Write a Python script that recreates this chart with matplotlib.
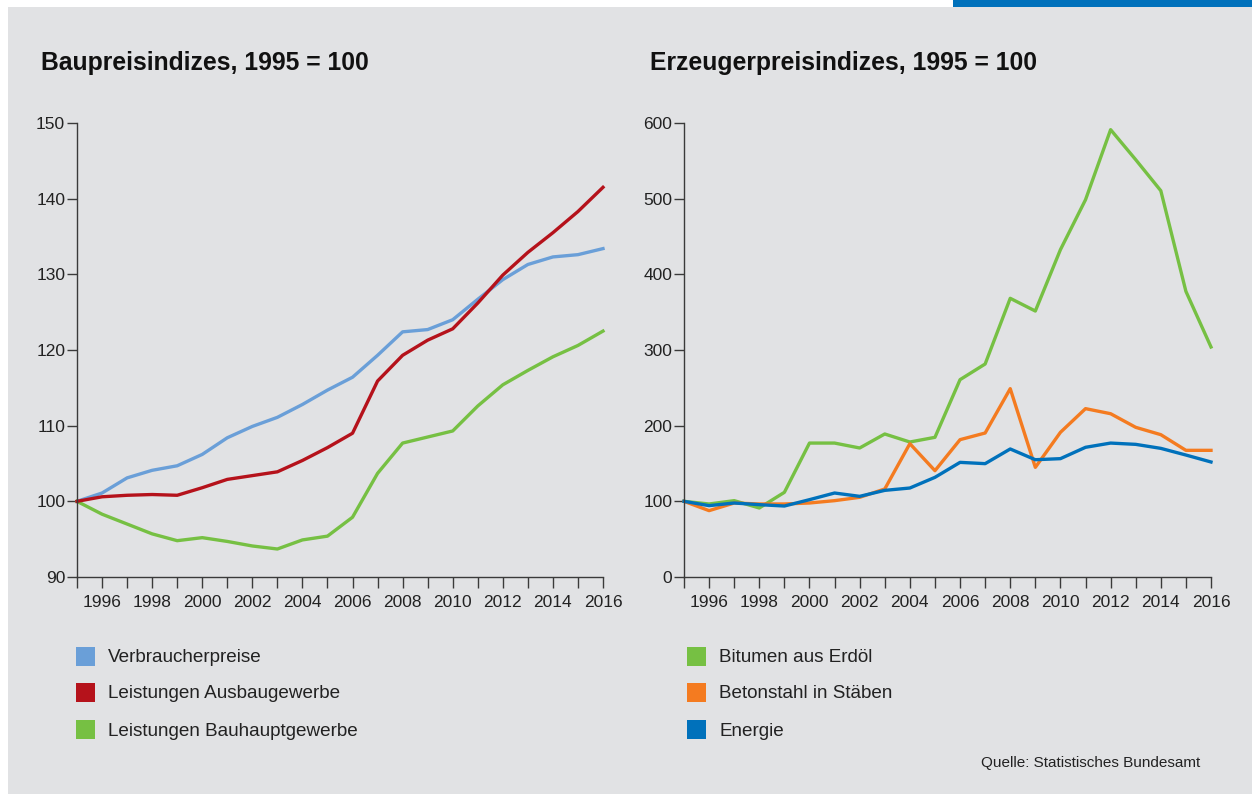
import matplotlib
matplotlib.use("Agg")
import matplotlib.pyplot as plt
from matplotlib.patches import Rectangle

# data
years = list(range(1995, 2017))

verbraucher = [100, 101.1, 103.1, 104.1, 104.7, 106.2, 108.4, 109.9, 111.1, 112.8, 114.7,
               116.4, 119.3, 122.4, 122.7, 124.0, 126.7, 129.3, 131.3, 132.3, 132.6, 133.4]
ausbau = [100, 100.6, 100.8, 100.9, 100.8, 101.8, 102.9, 103.4, 103.9, 105.4, 107.1,
          109.0, 115.9, 119.3, 121.3, 122.8, 126.2, 129.9, 132.9, 135.5, 138.3, 141.5]
bauhaupt = [100, 98.3, 97.0, 95.7, 94.8, 95.2, 94.7, 94.1, 93.7, 94.9, 95.4,
            97.9, 103.7, 107.7, 108.5, 109.3, 112.6, 115.4, 117.3, 119.1, 120.6, 122.5]

bitumen = [100, 96.5, 100.9, 91.2, 111.9, 177, 177, 170.5, 189, 178.4, 184.6,
           260.8, 281.5, 368.3, 351.5, 432.6, 498.6, 591.2, 551.5, 510.5, 377.5, 304]
betonstahl = [100, 87.7, 97.8, 96.5, 96.5, 97.8, 100.9, 105.3, 116.3, 176.2, 140.5,
              181.5, 190.3, 248.9, 144.9, 191.2, 222.5, 215.8, 197.8, 188.1, 167.4, 167.4]
energie = [100, 94.3, 97.8, 95.6, 93.8, 102.2, 111.0, 106.6, 114.5, 117.6, 131.7,
           151.5, 149.8, 169.2, 155.0, 156.4, 171.4, 177.0, 175.3, 170.0, 161.2, 152.0]

left_labels = ["Verbraucherpreise", "Leistungen Ausbaugewerbe", "Leistungen Bauhauptgewerbe"]
right_labels = ["Bitumen aus Erdöl", "Betonstahl in Stäben", "Energie"]

c_lblue = "#6a9fd8"
c_red = "#b5121b"
c_green = "#76c043"
c_orange = "#f47b20"
c_blue = "#0071bb"
bg = "#e1e2e4"
axcol = "#3a3a3a"

plt.rcParams["font.family"] = ["Liberation Sans Narrow", "Liberation Sans", "DejaVu Sans"]

W, H = 1252, 794
fig = plt.figure(figsize=(W / 100, H / 100), dpi=100, facecolor="white")

# grey panel and blue bar at the top right
fig.patches.append(Rectangle((8 / W, 0), 1 - 8 / W, 1 - 7 / H, transform=fig.transFigure,
                             facecolor=bg, edgecolor="none", zorder=-10))
fig.patches.append(Rectangle((953 / W, 1 - 7 / H), 1 - 953 / W, 7 / H, transform=fig.transFigure,
                             facecolor=c_blue, edgecolor="none", zorder=-10))


def setup(ax, ylim, yticks):
    ax.set_facecolor("none")
    ax.set_xlim(1995, 2016)
    ax.set_ylim(*ylim)
    ax.set_yticks(yticks)
    ax.set_xticks(years)
    ax.set_xticklabels([str(y) if y % 2 == 0 else "" for y in years])
    for s in ["top", "right"]:
        ax.spines[s].set_visible(False)
    for s in ["left", "bottom"]:
        ax.spines[s].set_color(axcol)
        ax.spines[s].set_linewidth(1.0)
    ax.tick_params(axis="x", length=8, width=1, color=axcol, pad=5, labelsize=12.5, labelcolor="#222222")
    ax.tick_params(axis="y", length=7, width=1, color=axcol, pad=1.5, labelsize=12.5, labelcolor="#222222")


ax1 = fig.add_axes([77 / W, 1 - 577 / H, 526 / W, 454 / H])
setup(ax1, (90, 150), range(90, 151, 10))
ax1.plot(years, verbraucher, color=c_lblue, lw=2.4, clip_on=False)
ax1.plot(years, bauhaupt, color=c_green, lw=2.4, clip_on=False)
ax1.plot(years, ausbau, color=c_red, lw=2.4, clip_on=False)

ax2 = fig.add_axes([684 / W, 1 - 577 / H, 527 / W, 454 / H])
setup(ax2, (0, 600), range(0, 601, 100))
ax2.plot(years, bitumen, color=c_green, lw=2.4, clip_on=False)
ax2.plot(years, betonstahl, color=c_orange, lw=2.4, clip_on=False)
ax2.plot(years, energie, color=c_blue, lw=2.4, clip_on=False)

# titles
fig.text(41 / W, 1 - 63 / H, "Baupreisindizes, 1995 = 100", fontsize=17.8, fontweight="bold",
         color="#111111", va="center", ha="left")
fig.text(650 / W, 1 - 63 / H, "Erzeugerpreisindizes, 1995 = 100", fontsize=17.8, fontweight="bold",
         color="#111111", va="center", ha="left")

# legends
rows = [656, 692, 729]
for x0, labels, cols in [(76, left_labels, [c_lblue, c_red, c_green]),
                         (687, right_labels, [c_green, c_orange, c_blue])]:
    for y, lab, col in zip(rows, labels, cols):
        fig.patches.append(Rectangle((x0 / W, 1 - (y + 10) / H), 19 / W, 19 / H,
                                     transform=fig.transFigure, facecolor=col, edgecolor="none"))
        fig.text((x0 + 32) / W, 1 - (y + 2) / H, lab, fontsize=13.6, color="#222222",
                 va="center", ha="left")

fig.text(1200 / W, 1 - 763 / H, "Quelle: Statistisches Bundesamt", fontsize=11, color="#222222",
         va="center", ha="right")

fig.savefig("out.png", dpi=100, facecolor="white")
